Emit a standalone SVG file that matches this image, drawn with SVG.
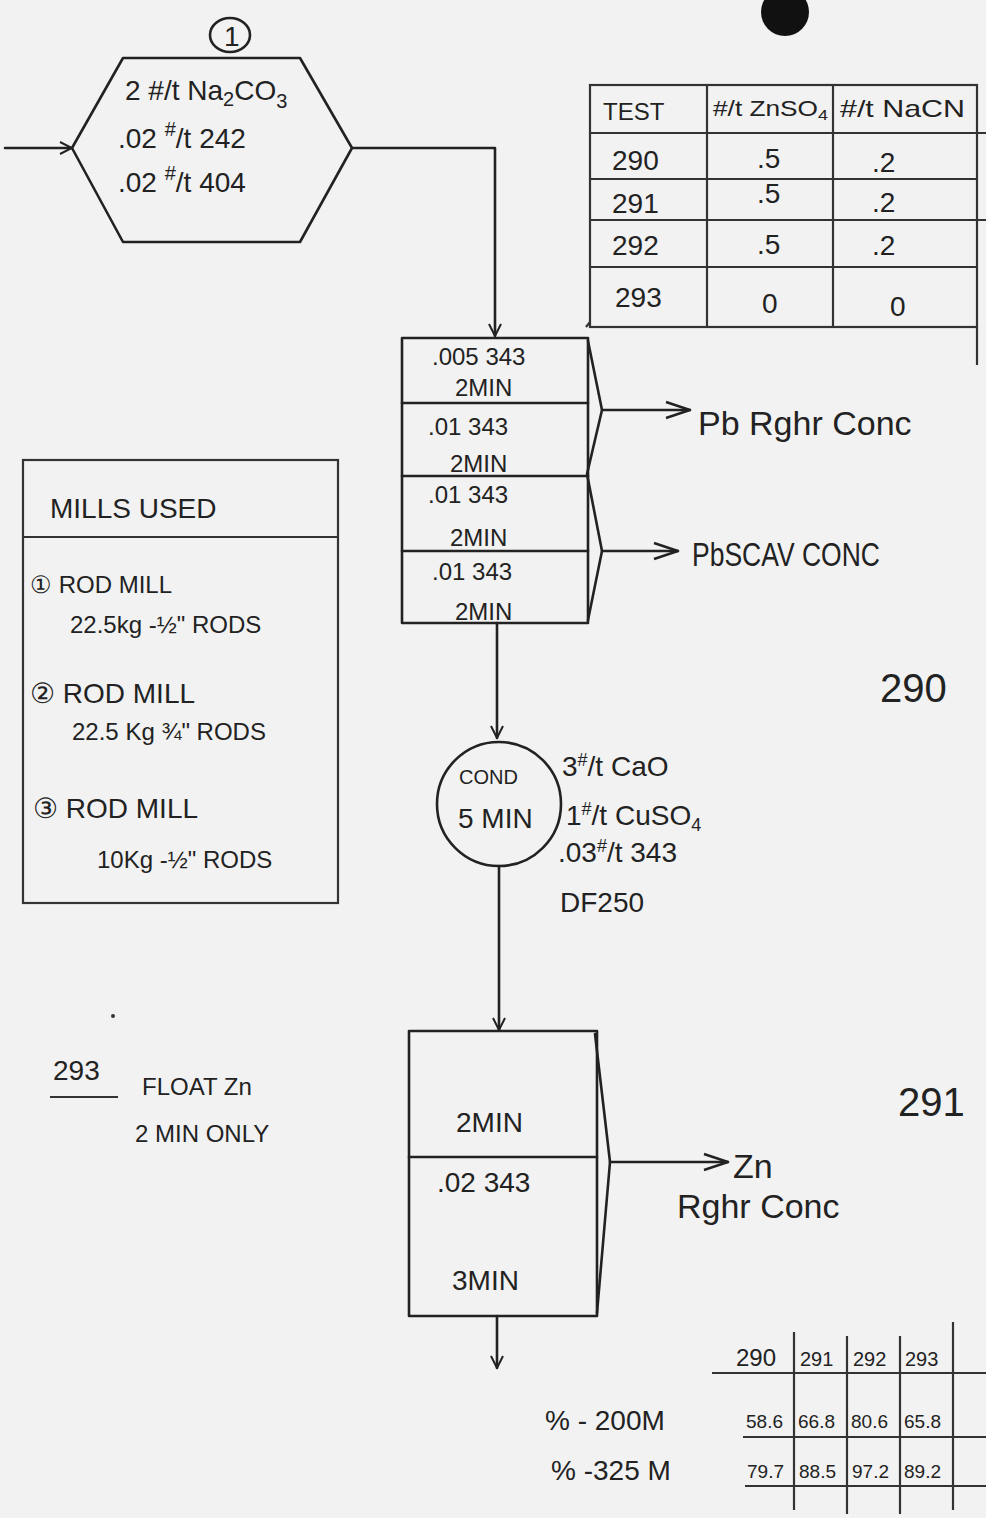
<svg xmlns="http://www.w3.org/2000/svg" width="986" height="1518" viewBox="0 0 986 1518">
<defs>
<style>
.ln{fill:none;stroke:#222;stroke-width:2.6;stroke-linecap:round;stroke-linejoin:round}
.th{fill:none;stroke:#333;stroke-width:2.2}
.t{font-family:"Liberation Sans",Arial,sans-serif;fill:#222}
.s28{font-size:28px}.s24{font-size:24px}.s22{font-size:22px}.s20{font-size:20px}.s18{font-size:19px}.s34{font-size:34px}.s40{font-size:40px}
</style>
<marker id="arr" viewBox="0 0 14 14" refX="13" refY="7" markerWidth="14" markerHeight="14" markerUnits="userSpaceOnUse" orient="auto">
<path d="M1,1 L13,7 L1,13" fill="none" stroke="#222" stroke-width="2"/>
</marker>
<marker id="arrL" viewBox="0 0 26 20" refX="25" refY="10" markerWidth="26" markerHeight="20" markerUnits="userSpaceOnUse" orient="auto">
<path d="M1,2 L25,10 L1,18" fill="none" stroke="#222" stroke-width="2.4"/>
</marker>
</defs>
<rect width="986" height="1518" fill="#f2f2f2"/>

<circle cx="785" cy="12" r="24" fill="#111"/>
<circle cx="113" cy="1016" r="2" fill="#333"/>

<g id="connectors">
<line class="ln" x1="5" y1="148" x2="72" y2="148" marker-end="url(#arr)"/>
<polyline class="ln" points="352,148 495,148 495,336" marker-end="url(#arr)"/>
<line class="ln" x1="602" y1="410" x2="690" y2="410" marker-end="url(#arrL)"/>
<line class="ln" x1="602" y1="551" x2="678" y2="551" marker-end="url(#arrL)"/>
<line class="ln" x1="497" y1="623" x2="497" y2="738" marker-end="url(#arr)"/>
<line class="ln" x1="499" y1="866" x2="499" y2="1030" marker-end="url(#arr)"/>
<line class="ln" x1="610" y1="1162" x2="728" y2="1162" marker-end="url(#arrL)"/>
<line class="ln" x1="497" y1="1316" x2="497" y2="1368" marker-end="url(#arr)"/>
</g>

<g id="n-mill-feed">
<polygon class="ln" points="123,58 300,58 352,148 300,242 123,242 72,148"/>
<ellipse class="ln" cx="230" cy="35" rx="20" ry="17" stroke-width="2"/>
<text class="t s28" x="224" y="46">1</text>
<text class="t s28" x="125" y="100">2 #/t Na<tspan font-size="20" dy="6">2</tspan><tspan dy="-6">CO</tspan><tspan font-size="20" dy="8">3</tspan></text>
<text class="t s28" x="118" y="148">.02 <tspan font-size="20" dy="-12">#</tspan><tspan dy="12">/t 242</tspan></text>
<text class="t s28" x="118" y="192">.02 <tspan font-size="20" dy="-12">#</tspan><tspan dy="12">/t 404</tspan></text>
</g>

<g id="n-reagent-table">
<rect class="th" x="590" y="85" width="387" height="242"/>
<line class="th" x1="707" y1="85" x2="707" y2="327"/>
<line class="th" x1="833" y1="85" x2="833" y2="327"/>
<line class="th" x1="590" y1="133" x2="986" y2="133"/>
<line class="th" x1="590" y1="179" x2="977" y2="179"/>
<line class="th" x1="590" y1="220" x2="986" y2="220"/>
<line class="th" x1="590" y1="267" x2="977" y2="267"/>
<line class="th" x1="977" y1="327" x2="977" y2="365"/>
<line class="th" x1="586" y1="327" x2="590" y2="322"/>
<text class="t s24" x="603" y="120">TEST</text>
<text class="t s22" x="713" y="116" textLength="115" lengthAdjust="spacingAndGlyphs">#/t ZnSO<tspan font-size="15" dy="4">4</tspan></text>
<text class="t s24" x="840" y="117" textLength="125" lengthAdjust="spacingAndGlyphs">#/t NaCN</text>
<text class="t s28" x="612" y="170">290</text>
<text class="t s28" x="757" y="168">.5</text>
<text class="t s28" x="872" y="172">.2</text>
<text class="t s28" x="612" y="213">291</text>
<text class="t s28" x="757" y="203">.5</text>
<text class="t s28" x="872" y="212">.2</text>
<text class="t s28" x="612" y="255">292</text>
<text class="t s28" x="757" y="254">.5</text>
<text class="t s28" x="872" y="255">.2</text>
<text class="t s28" x="615" y="307">293</text>
<text class="t s28" x="762" y="313">0</text>
<text class="t s28" x="890" y="316">0</text>
</g>

<g id="n-pb-float">
<rect class="ln" x="402" y="338" width="186" height="285"/>
<line class="ln" x1="402" y1="403" x2="588" y2="403"/>
<line class="ln" x1="402" y1="476" x2="588" y2="476"/>
<line class="ln" x1="402" y1="551" x2="588" y2="551"/>
<polyline class="ln" points="588,341 602,410 587,474 602,551 588,620"/>
<text class="t s24" x="432" y="365">.005 343</text>
<text class="t s24" x="455" y="396">2MIN</text>
<text class="t s24" x="428" y="435">.01 343</text>
<text class="t s24" x="450" y="472">2MIN</text>
<text class="t s24" x="428" y="503">.01 343</text>
<text class="t s24" x="450" y="546">2MIN</text>
<text class="t s24" x="432" y="580">.01 343</text>
<text class="t s24" x="455" y="620">2MIN</text>
<text class="t s34" x="698" y="435">Pb Rghr Conc</text>
<text class="t s34" x="692" y="566" textLength="188" lengthAdjust="spacingAndGlyphs">PbSCAV CONC</text>
</g>

<g id="n-cond">
<circle class="ln" cx="499" cy="804" r="62"/>
<text class="t s20" x="459" y="784">COND</text>
<text class="t s28" x="458" y="828">5 MIN</text>
<text class="t s28" x="562" y="776">3<tspan font-size="18" dy="-10">#</tspan><tspan dy="10">/t CaO</tspan></text>
<text class="t s28" x="566" y="825">1<tspan font-size="18" dy="-10">#</tspan><tspan dy="10">/t CuSO</tspan><tspan font-size="18" dy="6">4</tspan></text>
<text class="t s28" x="558" y="862">.03<tspan font-size="18" dy="-10">#</tspan><tspan dy="10">/t 343</tspan></text>
<text class="t s28" x="560" y="912">DF250</text>
</g>

<g id="n-zn-float">
<rect class="ln" x="409" y="1031" width="188" height="285"/>
<line class="ln" x1="409" y1="1157" x2="597" y2="1157"/>
<polyline class="ln" points="595,1034 610,1162 597,1313"/>
<text class="t s28" x="456" y="1132">2MIN</text>
<text class="t s28" x="437" y="1192">.02 343</text>
<text class="t s28" x="452" y="1290">3MIN</text>
<text class="t s34" x="733" y="1178">Zn</text>
<text class="t s34" x="677" y="1218">Rghr Conc</text>
</g>

<g id="n-mills-used">
<rect class="th" x="23" y="460" width="315" height="443"/>
<line class="th" x1="23" y1="537" x2="338" y2="537"/>
<text class="t s28" x="50" y="518">MILLS USED</text>
<text class="t s24" x="30" y="593">① ROD MILL</text>
<text class="t s24" x="70" y="633">22.5kg -½" RODS</text>
<text class="t s28" x="30" y="703">② ROD MILL</text>
<text class="t s24" x="72" y="740">22.5 Kg ¾" RODS</text>
<text class="t s28" x="33" y="818">③  ROD MILL</text>
<text class="t s24" x="97" y="868">10Kg  -½" RODS</text>
</g>

<g id="n-note-293">
<text class="t s28" x="53" y="1080">293</text>
<line class="th" x1="50" y1="1097" x2="118" y2="1097"/>
<text class="t s24" x="142" y="1095">FLOAT Zn</text>
<text class="t s24" x="135" y="1142">2 MIN ONLY</text>
</g>

<g id="n-test-labels">
<text class="t s40" x="880" y="702">290</text>
<text class="t s40" x="898" y="1116">291</text>
</g>

<g id="n-screen-table">
<line class="th" x1="712" y1="1373" x2="986" y2="1373"/>
<line class="th" x1="743" y1="1437" x2="986" y2="1437"/>
<line class="th" x1="745" y1="1486" x2="986" y2="1486"/>
<line class="th" x1="794" y1="1332" x2="794" y2="1510"/>
<line class="th" x1="847" y1="1336" x2="847" y2="1514"/>
<line class="th" x1="900" y1="1336" x2="900" y2="1514"/>
<line class="th" x1="953" y1="1322" x2="953" y2="1510"/>
<text class="t s24" x="736" y="1366">290</text>
<text class="t s20" x="800" y="1366">291</text>
<text class="t s20" x="853" y="1366">292</text>
<text class="t s20" x="905" y="1366">293</text>
<text class="t s28" x="545" y="1430">% - 200M</text>
<text class="t s28" x="551" y="1480">% -325 M</text>
<text class="t s18" x="746" y="1428">58.6</text>
<text class="t s18" x="798" y="1428">66.8</text>
<text class="t s18" x="851" y="1428">80.6</text>
<text class="t s18" x="904" y="1428">65.8</text>
<text class="t s18" x="747" y="1478">79.7</text>
<text class="t s18" x="799" y="1478">88.5</text>
<text class="t s18" x="852" y="1478">97.2</text>
<text class="t s18" x="904" y="1478">89.2</text>
</g>
</svg>
